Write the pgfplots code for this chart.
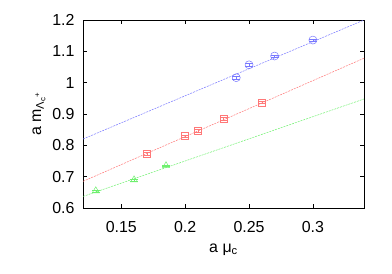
\documentclass[border=0pt]{standalone}
\usepackage{fontspec}
\setmainfont{Liberation Sans}
\usepackage{pgfplots}
\pgfplotsset{compat=1.18}
\definecolor{gblue}{RGB}{120,120,255}
\definecolor{gred}{RGB}{255,120,120}
\definecolor{ggreen}{RGB}{110,240,110}
\newcommand{\bigf}{\fontsize{16}{19}\selectfont}
\begin{document}
\begin{tikzpicture}[font=\bigf]
\useasboundingbox (-83bp,-66bp) rectangle (309bp,208bp);
\begin{axis}[
  at={(0,0)}, anchor=south west,
  scale only axis, width=281bp, height=188bp,
  xmin=0.12, xmax=0.34, ymin=0.6, ymax=1.2,
  xtick={0.15,0.2,0.25,0.3}, ytick={0.6,0.7,0.8,0.9,1,1.1,1.2},
  xticklabels={\bigf 0.15,\bigf 0.2,\bigf 0.25,\bigf 0.3},
  yticklabels={\bigf 0.6,\bigf 0.7,\bigf 0.8,\bigf 0.9,\bigf 1,\bigf 1.1,\bigf 1.2},
  tick align=inside, major tick length=4bp,
  tick style={black, line width=0.5pt},
  axis line style={black, line width=0.8pt},
  every tick label/.append style={font=\bigf},
  every axis label/.append style={font=\bigf},
  xticklabel style={yshift=-10bp},
  yticklabel style={xshift=-5bp},
  xlabel={\bigf a μ\textsubscript{c}},
  ylabel={\bigf a m\textsubscript{Λ\textsubscript{c}\textsuperscript{+}}},
  xlabel style={yshift=-4bp},
  ylabel style={yshift=0bp},
]
\addplot[gblue, line width=0.5pt, dash pattern=on 2pt off 1pt] coordinates {(0.12,0.82) (0.34,1.2)};
\addplot[gred, line width=0.5pt, dash pattern=on 2pt off 1pt] coordinates {(0.12,0.685) (0.34,1.078)};
\addplot[ggreen, line width=0.5pt, dash pattern=on 2pt off 1pt] coordinates {(0.12,0.637) (0.34,0.948)};
\addplot[only marks, mark=o, mark size=4bp, gblue, mark options={line width=0.5pt},
  error bars/.cd, y dir=both, y explicit] coordinates {
  (0.24,1.016) +- (0,0.004) (0.25,1.057) +- (0,0.004) (0.27,1.085) +- (0,0.004) (0.30,1.136) +- (0,0.004)};
\addplot[only marks, mark=square, mark size=3.5bp, gred, mark options={line width=0.5pt},
  error bars/.cd, y dir=both, y explicit] coordinates {
  (0.17,0.773) +- (0,0.004) (0.20,0.829) +- (0,0.004) (0.21,0.846) +- (0,0.004) (0.23,0.885) +- (0,0.004) (0.26,0.937) +- (0,0.004)};
\addplot[only marks, mark=triangle, mark size=4bp, ggreen, mark options={line width=0.5pt},
  error bars/.cd, y dir=both, y explicit] coordinates {
  (0.13,0.655) +- (0,0.003) (0.16,0.69) +- (0,0.003) (0.185,0.735) +- (0,0.003)};
\end{axis}
\end{tikzpicture}
\end{document}
